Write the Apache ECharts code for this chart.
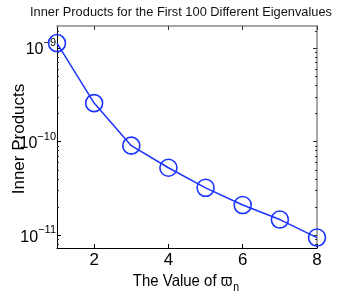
<!DOCTYPE html>
<html><head><meta charset="utf-8">
<script src="https://cdn.jsdelivr.net/npm/echarts@6/dist/echarts.min.js"></script>
<style>html,body{margin:0;padding:0;background:#fff}#c{width:349px;height:294px}</style>
</head><body><div id="c"></div>
<script>
const xValues = [1, 2, 3, 4, 5, 6, 7, 8];
const innerProducts = [1.13e-9, 2.58e-10, 9.06e-11, 5.26e-11, 3.21e-11, 2.10e-11, 1.47e-11, 9.44e-12];
const xTicks = [2, 4, 6, 8];
const yMajorTicks = [1e-11, 1e-10, 1e-9];
const yMinorTicks = [8e-12, 9e-12, 2e-11, 3e-11, 4e-11, 5e-11, 6e-11, 7e-11, 8e-11, 9e-11,
  2e-10, 3e-10, 4e-10, 5e-10, 6e-10, 7e-10, 8e-10, 9e-10, 1.5e-9];
const yMin = 7.3e-12, yMax = 1.72e-9;
const xMin = 1, xMax = 8;
const titleText = 'Inner Products for the First 100 Different Eigenvalues';
const yName = 'Inner Products';

const FONT = 'Liberation Sans';
const chart = echarts.init(document.getElementById('c'), null, {renderer: 'canvas'});

function expLabel(v) {
  const e = Math.round(Math.log10(v));
  return '{b|10}{s|\u2212' + Math.abs(e) + '}';
}
const yMinorFiltered = yMinorTicks.filter(v => v > yMin && v < yMax);

const baseY = {type: 'log', logBase: 10, min: yMin, max: yMax, splitLine: {show: false}};
const baseX = {type: 'value', min: xMin, max: xMax, splitLine: {show: false}};

chart.setOption({
  animation: false,
  grid: {left: 57, right: 32, top: 26, bottom: 46},
  xAxis: [
    Object.assign({}, baseX, {position: 'bottom',
      axisLine: {show: true, lineStyle: {color: '#000', width: 1}},
      axisTick: {show: true, inside: true, length: 4, customValues: xTicks, lineStyle: {color: '#000'}},
      axisLabel: {show: true, customValues: xTicks, margin: 4, fontFamily: FONT, fontSize: 17, color: '#000'}}),
    Object.assign({}, baseX, {position: 'top',
      axisLine: {show: true, onZero: false, lineStyle: {color: '#888', width: 1.5}},
      axisTick: {show: true, inside: true, length: 4, customValues: xTicks, lineStyle: {color: '#333'}},
      axisLabel: {show: false}})
  ],
  yAxis: [
    Object.assign({}, baseY, {position: 'left',
      axisLine: {show: true, lineStyle: {color: '#000', width: 1}},
      axisTick: {show: true, inside: true, length: 4, customValues: yMajorTicks, lineStyle: {color: '#000'}},
      axisLabel: {show: true, customValues: yMajorTicks, margin: 1, formatter: expLabel,
        rich: {b: {fontFamily: FONT, fontSize: 16, color: '#000', padding: [4, 0, 0, 0]},
               s: {fontFamily: FONT, fontSize: 11, color: '#000', verticalAlign: 'bottom', padding: [0, 0, 10, 0]}}}}),
    Object.assign({}, baseY, {position: 'left',
      axisLine: {show: false},
      axisTick: {show: true, inside: true, length: 2, customValues: yMinorFiltered, lineStyle: {color: '#333'}},
      axisLabel: {show: false}}),
    Object.assign({}, baseY, {position: 'right',
      axisLine: {show: true, onZero: false, lineStyle: {color: '#888', width: 1.5}},
      axisTick: {show: true, inside: true, length: 4, customValues: yMajorTicks, lineStyle: {color: '#333'}},
      axisLabel: {show: false}}),
    Object.assign({}, baseY, {position: 'right',
      axisLine: {show: false},
      axisTick: {show: true, inside: true, length: 2, customValues: yMinorFiltered, lineStyle: {color: '#333'}},
      axisLabel: {show: false}})
  ],
  graphic: [
    {type: 'text', id: 'title', x: 181, y: 5, scaleX: 0.95,
      style: {text: titleText, fontFamily: FONT, fontSize: 13.5, fill: '#111', align: 'center', verticalAlign: 'top'}},
    {type: 'text', id: 'yname', rotation: Math.PI / 2, x: 11, y: 139,
      style: {text: yName, fontFamily: FONT, fontSize: 17, fill: '#000', align: 'center', verticalAlign: 'top'}},
    {type: 'text', id: 'xname', x: 186, y: 268, scaleX: 0.88,
      style: {text: '{a|The Value of \u03D6}{n|n}', align: 'center', verticalAlign: 'top',
        rich: {a: {fontFamily: FONT, fontSize: 17, color: '#000'},
               n: {fontFamily: FONT, fontSize: 12, color: '#000', verticalAlign: 'top', padding: [14, 0, 0, 1]}}}}
  ],
  series: [{
    type: 'line', xAxisIndex: 0, yAxisIndex: 0,
    data: xValues.map((x, i) => [x, innerProducts[i]]),
    symbol: 'circle', symbolSize: 17, showAllSymbol: true,
    lineStyle: {color: '#1a33ff', width: 1.5},
    itemStyle: {color: 'rgba(0,0,0,0)', borderColor: '#1a33ff', borderWidth: 1.6},
    clip: false
  }]
});
</script></body></html>
